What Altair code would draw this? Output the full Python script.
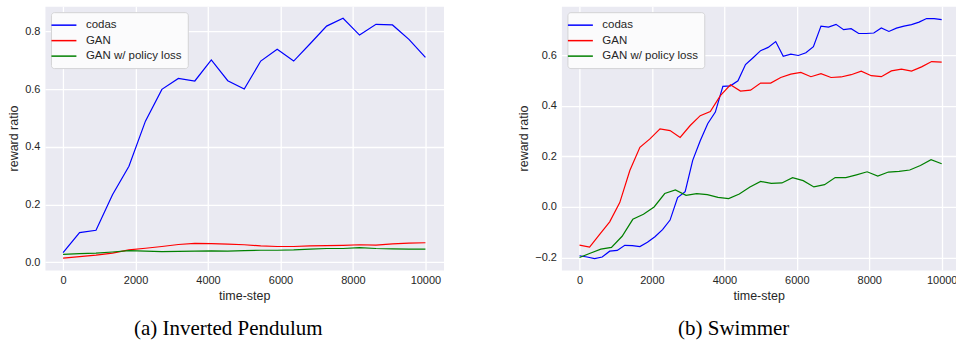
import altair as alt
import pandas as pd

SERIES = ["codas", "GAN", "GAN w/ policy loss"]
COLORS = ["#0000ff", "#ff0000", "#008000"]
X_TICKS = [0, 2000, 4000, 6000, 8000, 10000]

# (a) Inverted Pendulum
ip_steps = [0, 455, 909, 1364, 1818, 2273, 2727, 3182, 3636, 4091, 4545, 5000,
            5455, 5909, 6364, 6818, 7273, 7727, 8182, 8636, 9091, 9545, 10000]
ip_codas = [0.034, 0.103, 0.111, 0.234, 0.333, 0.489, 0.599, 0.637, 0.628, 0.701, 0.629, 0.600,
            0.697, 0.738, 0.697, 0.757, 0.818, 0.845, 0.787, 0.824, 0.822, 0.772, 0.710]
ip_gan = [0.015, 0.020, 0.025, 0.032, 0.043, 0.049, 0.055, 0.062, 0.066, 0.065, 0.063, 0.061,
          0.057, 0.055, 0.055, 0.057, 0.058, 0.059, 0.061, 0.060, 0.064, 0.067, 0.068]
ip_gan_pl = [0.028, 0.030, 0.032, 0.036, 0.041, 0.039, 0.037, 0.038, 0.039, 0.040, 0.039, 0.041,
             0.042, 0.042, 0.043, 0.046, 0.048, 0.048, 0.051, 0.048, 0.047, 0.046, 0.046]
ip_yticks = [0.0, 0.2, 0.4, 0.6, 0.8]

# (b) Swimmer
sw_codas_steps = [0, 208, 417, 625, 833, 1042, 1250, 1458, 1667, 1875, 2083, 2292, 2500,
                  2708, 2917, 3125, 3333, 3542, 3750, 3958, 4167, 4375, 4583, 4792, 5000,
                  5208, 5417, 5625, 5833, 6042, 6250, 6458, 6667, 6875, 7083, 7292, 7500,
                  7708, 7917, 8125, 8333, 8542, 8750, 8958, 9167, 9375, 9583, 9792, 10000]
sw_codas = [-0.193, -0.198, -0.204, -0.198, -0.175, -0.172, -0.152, -0.153, -0.157, -0.140,
            -0.118, -0.090, -0.052, 0.037, 0.060, 0.184, 0.262, 0.330, 0.375, 0.477, 0.479,
            0.499, 0.563, 0.590, 0.618, 0.631, 0.654, 0.596, 0.604, 0.599, 0.610, 0.634,
            0.715, 0.711, 0.722, 0.701, 0.705, 0.686, 0.686, 0.688, 0.708, 0.694, 0.707,
            0.715, 0.721, 0.731, 0.745, 0.745, 0.741]
sw_gan_steps = [0, 278, 556, 833, 1111, 1389, 1667, 1944, 2222, 2500, 2778, 3056, 3333,
                3611, 3889, 4167, 4444, 4722, 5000, 5278, 5556, 5833, 6111, 6389, 6667,
                6944, 7222, 7500, 7778, 8056, 8333, 8611, 8889, 9167, 9444, 9722, 10000]
sw_gan = [-0.151, -0.159, -0.109, -0.059, 0.017, 0.144, 0.236, 0.269, 0.309, 0.302, 0.275,
          0.322, 0.361, 0.377, 0.440, 0.483, 0.458, 0.462, 0.490, 0.490, 0.512, 0.525, 0.532,
          0.515, 0.527, 0.512, 0.514, 0.523, 0.537, 0.519, 0.515, 0.538, 0.545, 0.537, 0.554,
          0.575, 0.573]
sw_gan_pl_steps = [0, 294, 588, 882, 1176, 1471, 1765, 2059, 2353, 2647, 2941, 3235, 3529,
                   3824, 4118, 4412, 4706, 5000, 5294, 5588, 5882, 6176, 6471, 6765, 7059,
                   7353, 7647, 7941, 8235, 8529, 8824, 9118, 9412, 9706, 10000]
sw_gan_pl = [-0.200, -0.183, -0.167, -0.160, -0.116, -0.049, -0.029, 0.000, 0.053, 0.067,
             0.046, 0.053, 0.049, 0.038, 0.033, 0.051, 0.079, 0.101, 0.093, 0.095, 0.116,
             0.104, 0.079, 0.088, 0.116, 0.116, 0.127, 0.139, 0.122, 0.138, 0.141, 0.146,
             0.164, 0.187, 0.171]
sw_yticks = [-0.2, 0.0, 0.2, 0.4, 0.6]


def frame(pairs):
    rows = []
    for name, steps, vals in pairs:
        for s, v in zip(steps, vals):
            rows.append({"step": s, "value": v, "series": name})
    return pd.DataFrame(rows)


ip_df = frame([("codas", ip_steps, ip_codas), ("GAN", ip_steps, ip_gan),
               ("GAN w/ policy loss", ip_steps, ip_gan_pl)])
sw_df = frame([("codas", sw_codas_steps, sw_codas), ("GAN", sw_gan_steps, sw_gan),
               ("GAN w/ policy loss", sw_gan_pl_steps, sw_gan_pl)])


def panel(df, xdom, ydom, yticks, width, caption, cap_dx):
    return alt.Chart(df).mark_line(strokeWidth=1.2, clip=True).encode(
        x=alt.X("step:Q", scale=alt.Scale(domain=xdom, nice=False, zero=False),
                axis=alt.Axis(values=X_TICKS, format="d", title="time-step")),
        y=alt.Y("value:Q", scale=alt.Scale(domain=ydom, nice=False, zero=False),
                axis=alt.Axis(values=yticks, format=".1f", title="reward ratio")),
        color=alt.Color("series:N", scale=alt.Scale(domain=SERIES, range=COLORS),
                        legend=alt.Legend(title=None, orient="top-left", offset=6)),
    ).properties(
        width=width, height=264,
        title=alt.TitleParams(caption, orient="bottom", anchor="middle", frame="group",
                              dx=cap_dx, offset=16, font="Liberation Serif", fontSize=21,
                              fontWeight="normal", color="black"),
    )


left = panel(ip_df, [-500, 10500], [-0.026, 0.887], ip_yticks, 399, "(a) Inverted Pendulum", -16)
right = panel(sw_df, [-500, 10395], [-0.249, 0.794], sw_yticks, 395, "(b) Swimmer", -25)

chart = alt.hconcat(left, right, spacing=118, bounds="flush").resolve_legend(
    color="independent"
).properties(
    padding={"left": 7, "top": 5, "right": -2, "bottom": 0}
).configure_view(
    fill="#EAEAF2", stroke="transparent"
).configure_axis(
    domain=False, ticks=False, tickSize=0, grid=True, gridColor="white", gridWidth=1.3,
    labelFont="Liberation Sans", labelFontSize=11, labelColor="#262626", labelPadding=5,
    titleFont="Liberation Sans", titleFontSize=12.5, titleFontWeight="normal",
    titleColor="#262626", titlePadding=4,
).configure_legend(
    fillColor="#FBFBFC", strokeColor="#D3D3D5", cornerRadius=3, padding=6,
    labelFont="Liberation Sans", labelFontSize=11.5, labelColor="#262626",
    symbolType="M-2,0H2", symbolSize=156, symbolStrokeWidth=1.5, symbolFillColor="transparent",
    labelOffset=15, rowPadding=2.5,
)

chart.save("out.html", embed_options={"renderer": "svg", "actions": False})
